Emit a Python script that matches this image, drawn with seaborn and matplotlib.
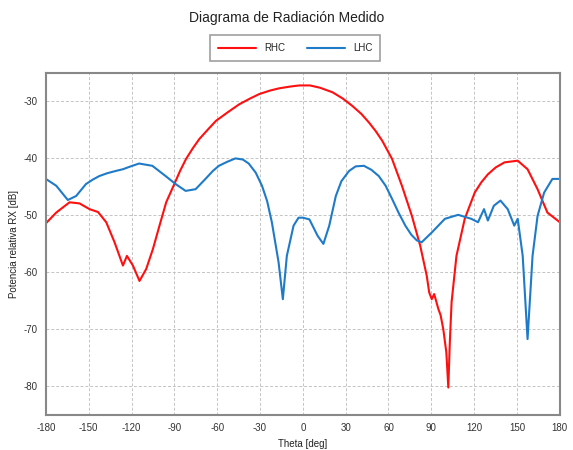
import numpy as np
import pandas as pd
import matplotlib
matplotlib.use("Agg")
import matplotlib.pyplot as plt
import seaborn as sns

rhc_theta = [-180, -172.7, -163.4, -156.4, -149.4, -143.5, -137.7, -131.9, -126, -123.2,
             -119, -114.4, -109.7, -105, -100.4, -95.7, -90, -86, -81.8, -77, -72.5, -66, -60.8,
             -52, -44.5, -37, -30.4, -23, -16.5, -9, -2.5, 5, 12, 20.8, 28, 34.7, 41, 46.3, 51, 55.6, 62.5, 69.4,
             76.4, 82.2, 86.8, 88.5, 90.3, 92, 94.9, 96.5, 98.4, 100.5, 101.9, 103,
             104.2, 107.6, 113.4, 120.4, 125, 129.6, 135, 141.2, 150.5, 157.4, 164.4, 171.3, 180]
rhc_db = [-51.4, -49.5, -47.7, -47.9, -48.9, -49.4, -51.2, -54.7, -58.8, -57.1,
          -58.8, -61.5, -59.4, -55.9, -51.8, -47.7, -44.5, -42.2, -40.1, -38.2, -36.6, -34.8, -33.4,
          -31.8, -30.5, -29.5, -28.7, -28.1, -27.7, -27.4, -27.2, -27.2, -27.6, -28.4, -29.5, -30.8, -32.2, -33.7, -35.2, -36.9, -40.1, -44.8,
          -50.1, -55.3, -60.6, -63.5, -64.7, -63.8, -66.4, -67.5, -70.0, -74.0, -80.2, -72.0,
          -65.2, -57.1, -50.6, -46.0, -44.2, -42.8, -41.6, -40.7, -40.4, -41.9, -45.4, -49.5, -51.2]

lhc_theta = [-180, -172.7, -164.6, -158.8, -151.9, -147, -142.6, -137, -131, -126, -121.7, -114.7, -105.4,
             -96.1, -89.1, -82.1, -75.1, -68.2, -63, -58.8, -53, -47.2, -42, -37.9, -33, -28.6, -25, -21.7,
             -17, -14, -11.2, -6.5, -3, 0, 4.6, 10.4, 14.4, 18.5,
             23.1, 27, 32.4, 37, 42.8, 48, 53.2, 58, 62.5, 67, 71.8, 76, 79.9, 83.3, 90.3, 99.5,
             108.8, 118, 122.7, 126.9, 129.6, 133.8, 138.4, 143.5, 148.1, 150.5,
             154, 157.4, 160.9, 164.4, 169, 174.8, 180]
lhc_db = [-43.6, -44.8, -47.3, -46.6, -44.5, -43.7, -43.1, -42.6, -42.2, -41.9, -41.5, -40.9, -41.3,
          -43.1, -44.5, -45.7, -45.4, -43.6, -42.2, -41.3, -40.6, -40.0, -40.2, -40.9, -42.5, -44.8, -47.5, -51.2,
          -58.2, -64.7, -57.1, -51.8, -50.4, -50.4, -50.7, -53.6, -55.0, -51.8,
          -46.6, -44.0, -42.2, -41.4, -41.3, -42.0, -43.1, -44.8, -47.1, -49.5, -51.8, -53.4, -54.4, -54.7, -53.0, -50.6,
          -49.9, -50.6, -51.2, -48.9, -50.9, -48.3, -47.4, -48.9, -51.8, -50.6,
          -57.1, -71.7, -57.1, -50.1, -46.0, -43.6, -43.6]

x_ticks = list(range(-180, 181, 30))
y_ticks = [-30, -40, -50, -60, -70, -80]

sns.set_style("white")
plt.rcParams['font.family'] = ['Liberation Sans', 'DejaVu Sans']
plt.rcParams['axes.unicode_minus'] = False

fig = plt.figure(figsize=(5.73, 4.5), dpi=100)
ax = fig.add_axes([0.080, 0.078, 0.897, 0.760])

rhc = pd.DataFrame({"theta": rhc_theta, "db": rhc_db})
lhc = pd.DataFrame({"theta": lhc_theta, "db": lhc_db})
sns.lineplot(data=rhc, x="theta", y="db", ax=ax, color="#ff1010", lw=1.5, label="RHC")
sns.lineplot(data=lhc, x="theta", y="db", ax=ax, color="#1f7bc8", lw=1.5, label="LHC")

ax.set_xlim(-180, 180)
ax.set_ylim(-85, -25)
ax.set_xticks(x_ticks)
ax.set_yticks(y_ticks)
ax.tick_params(labelsize=7, colors="#333333", length=0, pad=6)
ax.grid(True, color="#c4c4c4", linestyle=(0, (3, 2)), linewidth=0.7)
for s in ax.spines.values():
    s.set_color("#888888")
    s.set_linewidth(1.5)

ax.set_xlabel("Theta [deg]", fontsize=7, color="#222222")
ax.set_ylabel("Potencia relativa RX [dB]", fontsize=7, color="#222222", labelpad=3)
fig.suptitle("Diagrama de Radiación Medido", fontsize=10, y=0.975, color="#222222")

handles, labels = ax.get_legend_handles_labels()
ax.get_legend().remove()
leg = fig.legend(handles, labels, loc="center", bbox_to_anchor=(0.515, 0.893), ncol=2,
                 fontsize=7, frameon=True, fancybox=False, edgecolor="#888888",
                 handlelength=4, columnspacing=2.2, borderpad=0.8)
leg.get_frame().set_linewidth(1.2)

fig.savefig("out.png", dpi=100)
